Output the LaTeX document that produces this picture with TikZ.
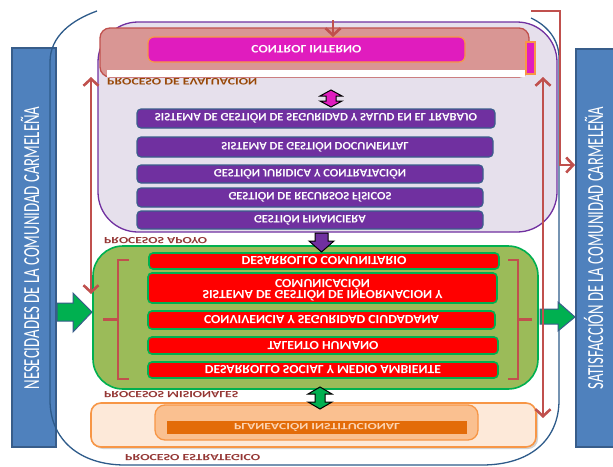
\documentclass[tikz,border=0pt]{standalone}
\usepackage{fontspec}
\setmainfont{Carlito}
\usepackage{graphicx}
\usetikzlibrary{arrows.meta,shadows}

\definecolor{barblue}{HTML}{4F81BD}
\definecolor{barline}{HTML}{385D8A}
\definecolor{ringblue}{HTML}{2E5B8A}
\definecolor{ppl}{HTML}{7030A0}
\definecolor{pplline}{HTML}{3B5E8C}
\definecolor{lav}{HTML}{E6E0EC}
\definecolor{rose}{HTML}{D99694}
\definecolor{brick}{HTML}{C0504D}
\definecolor{mag}{HTML}{E01CBE}
\definecolor{org}{HTML}{F79646}
\definecolor{olive}{HTML}{9BBB59}
\definecolor{grn}{HTML}{00B050}
\definecolor{peach}{HTML}{FDE9D9}
\definecolor{apricot}{HTML}{FAC090}
\definecolor{rust}{HTML}{E36C09}
\definecolor{maroon}{HTML}{953735}
\definecolor{umber}{HTML}{984807}
\definecolor{pale}{HTML}{FCD5B5}

% upside-down text stretched to a given width
\newcommand{\flipw}[2]{\scalebox{1}[-1]{\resizebox{#1pt}{\height}{#2}}}
% text of the two side bars
\newcommand{\sidetext}[1]{\resizebox{283pt}{\height}{\fontsize{23}{23}\selectfont #1}}

\tikzset{
  sidebar/.style={draw=barline, fill=barblue, line width=1.2pt, inner sep=0pt},
  sidelbl/.style={text=white, inner sep=0pt, rotate=90},
  ppbox/.style={draw=pplline, fill=ppl, line width=1.2pt, rounded corners=4pt,
    inner sep=0pt, text=white, font=\bfseries\fontsize{11.5}{13}\selectfont},
  rdbox/.style={draw=grn, fill=red, line width=1.6pt, rounded corners=4pt,
    inner sep=0pt, text=white, align=center, font=\bfseries\fontsize{12.5}{14}\selectfont},
  grouplbl/.style={anchor=west, inner sep=0pt, text=maroon,
    font=\bfseries\fontsize{9.5}{11}\selectfont},
  redline/.style={draw=brick, line width=2.6pt},
  barb/.tip={Straight Barb[length=7pt,width=15pt]},
  blockarrow/.style={line width=1pt, line join=miter},
}

\begin{document}
\begin{tikzpicture}[x=1pt, y=-1pt]
  \clip (0,0) rectangle (613,466);
  \fill[white] (0,0) rectangle (613,466);

  % side bars
  \node[sidebar, minimum width=44pt, minimum height=399pt] (needs) at (34,247.5) {};
  \node[sidebar, minimum width=44pt, minimum height=398pt] (satis) at (598,248) {};
  \node[sidelbl] (needstxt) at (30,248) {\sidetext{NESECIDADES DE LA COMUNIDAD CARMELEÑA}};
  \node[sidelbl] (satistxt) at (593.5,248) {\sidetext{SATISFACCIÓN DE LA COMUNIDAD CARMELEÑA}};

  % outer ring of the process map
  \draw[ringblue, line width=1.3pt]
    (97,11) .. controls (72,20) and (50,36) .. (50,62) -- (50,400)
    .. controls (50,440) and (80,465) .. (125,465) -- (482,465)
    .. controls (530,465) and (559,440) .. (559,400) -- (559,58)
    .. controls (559,40) and (548,26) .. (531,18);

  % support processes
  \node[draw=ppl, fill=lav, line width=1.3pt, rounded corners=40pt,
        minimum width=459pt, minimum height=210pt, inner sep=0pt] (apoyo) at (327.5,127) {};

  % evaluation band
  \node[draw=brick, fill=rose, line width=1.3pt, rounded corners=10pt,
        minimum width=429pt, minimum height=49pt, inner sep=0pt] (evalband) at (314.5,52.5) {};
  \node[fill=white, minimum width=418pt, minimum height=7pt, inner sep=0pt] (evalgap) at (316,73.5) {};
  \node[draw=org, fill=mag, line width=1.2pt, rounded corners=6pt,
        minimum width=317pt, minimum height=25pt, inner sep=0pt, text=white,
        font=\bfseries\fontsize{11.5}{13}\selectfont] (control) at (306.5,49.5) {\flipw{110}{CONTROL INTERNO}};
  \node[draw=org, fill=mag, line width=1.2pt, minimum width=9pt, minimum height=32pt,
        inner sep=0pt] (tab) at (530.5,58) {};
  \node[anchor=west, inner sep=0pt, text=umber, font=\bfseries\fontsize{10}{12}\selectfont]
        (evallbl) at (107,82) {\flipw{150}{PROCESO DE EVALUACION}};

  % support process boxes
  \node[ppbox, minimum width=358pt, minimum height=19pt] (sst) at (316,118.5)
        {\flipw{322}{SISTEMA DE GESTIÓN DE SEGURIDAD Y SALUD EN EL TRABAJO}};
  \node[ppbox, minimum width=356pt, minimum height=20pt] (doc) at (315,147)
        {\flipw{187}{SISTEMA DE GESTIÓN DOCUMENTAL}};
  \node[ppbox, minimum width=346pt, minimum height=18pt] (jur) at (310,174)
        {\flipw{192}{GESTIÓN JURIDICA Y CONTRATACIÓN}};
  \node[ppbox, minimum width=346pt, minimum height=19pt] (fis) at (310,197.5)
        {\flipw{163}{GESTIÓN DE RECURSOS FÍSICOS}};
  \node[ppbox, minimum width=346pt, minimum height=18pt] (fin) at (310,220)
        {\flipw{112}{GESTIÓN FINANCIERA}};
  \node[grouplbl] (apoyolbl) at (104,241) {\flipw{103}{PROCESOS APOYO}};

  % mission processes
  \node[draw=grn, fill=olive, line width=1.6pt, rounded corners=30pt,
        minimum width=445pt, minimum height=143pt, inner sep=0pt] (mision) at (315.5,317.5) {};
  \node[rdbox, minimum width=350pt, minimum height=16pt] (comun) at (324,261)
        {\flipw{165}{DESARROLLO COMUNITARIO}};
  \node[rdbox, minimum width=349pt, minimum height=30pt] (info) at (322.5,288)
        {\scalebox{1}[-1]{\begin{tabular}{@{}c@{}}\resizebox{240pt}{\height}{SISTEMA DE GESTIÓN DE INFORMACION Y}\\[-3pt]
         \resizebox{95pt}{\height}{COMUNICACIÓN}\end{tabular}}};
  \node[rdbox, minimum width=347pt, minimum height=18pt] (conv) at (321.5,320)
        {\flipw{235}{CONVIVENCIA Y SEGURIDAD CIUDADANA}};
  \node[rdbox, minimum width=350pt, minimum height=17pt] (talento) at (323,345.5)
        {\flipw{111}{TALENTO HUMANO}};
  \node[rdbox, minimum width=350pt, minimum height=16pt] (social) at (323,370)
        {\flipw{236}{DESARROLLO SOCIAL Y MEDIO AMBIENTE}};
  \node[grouplbl] (misionlbl) at (104,395) {\flipw{134}{PROCESOS MISIONALES}};

  % braces around the mission boxes
  \draw[redline, line join=miter] (129,260) -- (118,260) -- (118,379) -- (129,379);
  \draw[redline] (103,319.5) -- (118,319.5);
  \draw[redline, line join=miter] (508,260) -- (518,260) -- (518,379) -- (508,379);
  \draw[redline] (518,319.5) -- (532,319.5);

  % strategic process
  \node[draw=org, fill=peach, line width=1.6pt, rounded corners=10pt,
        minimum width=445pt, minimum height=44pt, inner sep=0pt,
        drop shadow={shadow xshift=2pt, shadow yshift=-2pt, opacity=0.35}] (estrat) at (313.5,425) {};
  \node[draw=org, fill=apricot, line width=1.3pt, rounded corners=10pt,
        minimum width=323pt, minimum height=35pt, inner sep=0pt] (planbox) at (316.5,422.5) {};
  \node[fill=rust, minimum width=300pt, minimum height=13pt, inner sep=0pt, text=pale,
        font=\bfseries\fontsize{9.5}{11}\selectfont] (plan) at (317,427.5)
        {\flipw{166}{PLANEACIÓN INSTITUCIONAL}};
  \node[grouplbl] (estratlbl) at (125,458) {\flipw{135}{PROCESO ESTRATEGICO}};

  % block arrows
  \fill[grn, draw=barline, blockarrow] (57,303) -- (73,303) -- (73,293) -- (92,312)
    -- (73,332) -- (73,321) -- (57,321) -- cycle;
  \fill[grn, draw=barline, blockarrow] (540,309) -- (558,309) -- (558,302) -- (575,317)
    -- (558,331) -- (558,324) -- (540,324) -- cycle;
  \fill[ppl, draw=black, blockarrow] (315,233) -- (328,233) -- (328,241) -- (334,241)
    -- (321.5,252) -- (309,241) -- (315,241) -- cycle;
  \fill[mag, draw=black, blockarrow] (331,90) -- (342,96) -- (336,96) -- (336,101)
    -- (342,101) -- (331,107) -- (320,101) -- (326,101) -- (326,96) -- (320,96) -- cycle;
  \fill[grn, draw=black, blockarrow] (320,387) -- (332,394) -- (325,394) -- (325,402)
    -- (332,402) -- (320,409) -- (308,402) -- (315,402) -- (315,394) -- (308,394) -- cycle;

  % feedback lines
  \coordinate (lt) at (91,77);
  \coordinate (lb) at (91,294);
  \coordinate (rt) at (543,77);
  \coordinate (rb) at (543,418);
  \coordinate (ctop) at (333,20);
  \coordinate (cin) at (333,37);
  \coordinate (k1) at (531,11);
  \coordinate (k2) at (560,11);
  \coordinate (k3) at (560,165);
  \coordinate (k4) at (575,165);
  \draw[redline, {barb}-{barb}] (lt) -- (lb);
  \draw[redline, {barb}-{barb}] (rt) -- (rb);
  \draw[redline, -{barb}] (ctop) -- (cin);
  \draw[redline, line join=miter, -{barb}] (k1) -- (k2) -- (k3) -- (k4);
\end{tikzpicture}
\end{document}
